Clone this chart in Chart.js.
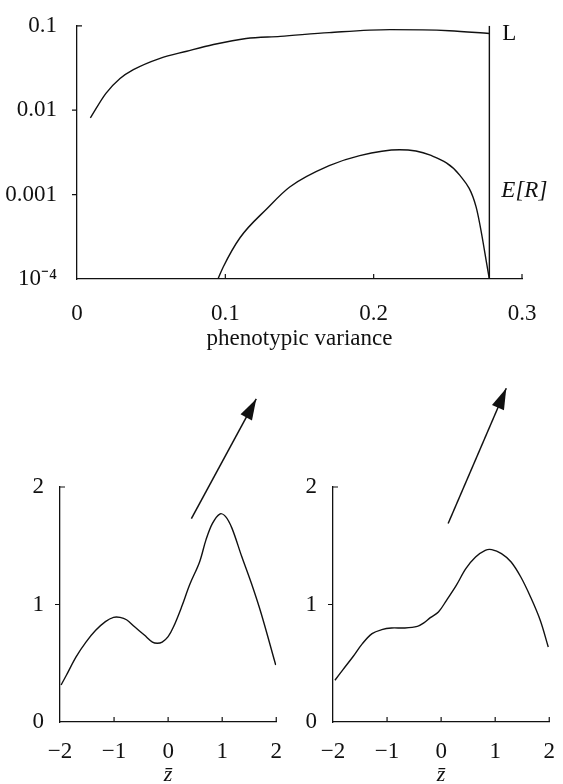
<!DOCTYPE html>
<html><head><meta charset="utf-8">
<script src="https://cdn.jsdelivr.net/npm/chart.js@4.4.1/dist/chart.umd.min.js"></script>
<style>
html,body{margin:0;padding:0;background:#fff;overflow:hidden;width:563px;height:784px;position:relative}
canvas{position:absolute;display:block}
</style></head><body>
<canvas id="c1" width="563" height="360" style="left:0;top:0"></canvas>
<canvas id="c2" width="290" height="430" style="left:0;top:370px"></canvas>
<canvas id="c3" width="273" height="430" style="left:290px;top:370px"></canvas>
<script>
// ---- top panel data ----
const varianceL = [0.009, 0.0195, 0.029, 0.038, 0.056, 0.074, 0.092, 0.114, 0.137, 0.170, 0.211, 0.251, 0.278];
const valuesL   = [0.0081, 0.0158, 0.0237, 0.0302, 0.0412, 0.050, 0.060, 0.0708, 0.075, 0.083, 0.090, 0.0875, 0.081];
const varianceR = [0.095, 0.0985, 0.110, 0.128, 0.1434, 0.170, 0.1906, 0.2175, 0.2377, 0.258, 0.269, 0.278];
const valuesR   = [1e-4, 1.38e-4, 3.1e-4, 6.8e-4, 1.23e-3, 2.2e-3, 2.9e-3, 3.4e-3, 2.95e-3, 1.7e-3, 7.2e-4, 1e-4];
const boundaryX = 0.278;
const boundaryY = [1e-4, 0.1];
const topXTicks = [0, 0.1, 0.2, 0.3];
const topXLabels = ['0', '0.1', '0.2', '0.3'];
const topYTicks = [1e-4, 1e-3, 1e-2, 1e-1];
const topYLabels = ['10\u207B\u2074', '0.001', '0.01', '0.1'];
const seriesNames = ['L', 'E[R]'];
const topXTitle = 'phenotypic variance';

// ---- bottom panels data ----
const zLeft  = [-1.98, -1.88, -1.70, -1.52, -1.34, -1.16, -1.01, -0.89, -0.77, -0.62, -0.44, -0.29, -0.20, -0.11, 0.0, 0.10, 0.25, 0.40, 0.58, 0.70, 0.82, 0.955, 1.06, 1.18, 1.36, 1.54, 1.72, 1.99];
const wLeft  = [0.315, 0.40, 0.556, 0.68, 0.78, 0.854, 0.89, 0.89, 0.87, 0.81, 0.74, 0.68, 0.67, 0.68, 0.726, 0.81, 0.98, 1.17, 1.36, 1.55, 1.69, 1.77, 1.75, 1.65, 1.41, 1.18, 0.925, 0.485];
const zRight = [-1.964, -1.815, -1.635, -1.456, -1.277, -1.098, -0.918, -0.68, -0.44, -0.32, -0.20, -0.05, 0.10, 0.28, 0.457, 0.637, 0.816, 0.936, 1.116, 1.295, 1.474, 1.654, 1.833, 1.982];
const wRight = [0.355, 0.446, 0.553, 0.667, 0.752, 0.786, 0.80, 0.80, 0.814, 0.843, 0.888, 0.936, 1.036, 1.163, 1.305, 1.404, 1.461, 1.467, 1.433, 1.362, 1.234, 1.064, 0.866, 0.638];
const arrowLeftX  = [0.43, 1.63];
const arrowLeftY  = [1.73, 2.75];
const arrowRightX = [0.13, 1.205];
const arrowRightY = [1.69, 2.84];
const botXTicks = [-2, -1, 0, 1, 2];
const botXLabels = ['\u22122', '\u22121', '0', '1', '2'];
const botYTicks = [0, 1, 2];
const botYLabels = ['0', '1', '2'];
const botXTitle = 'z\u0304';

const FONT = 'Liberation Serif';
const INK = '#111';
const pts = (xs, ys) => xs.map((x, i) => ({x, y: ys[i]}));

// tick marks + arrowheads + series labels
const decor = {
  id: 'decor',
  afterDatasetsDraw(chart) {
    const ctx = chart.ctx, x = chart.scales.x, y = chart.scales.y, a = chart.chartArea;
    ctx.save();
    ctx.strokeStyle = INK; ctx.lineWidth = 1.2;
    ctx.beginPath();
    x.ticks.forEach((t, i) => {
      if (i === 0) return;
      const px = x.getPixelForValue(t.value);
      ctx.moveTo(px, a.bottom); ctx.lineTo(px, a.bottom - 5);
    });
    const n = y.ticks.length;
    y.ticks.forEach((t, i) => {
      if (i === 0) return;
      const py = y.getPixelForValue(t.value);
      if (i === n - 1) { ctx.moveTo(a.left, py); ctx.lineTo(a.left + 5, py); }
      else { ctx.moveTo(a.left - 5, py); ctx.lineTo(a.left, py); }
    });
    ctx.stroke();
    chart.data.datasets.forEach((ds, di) => {
      if (!ds.arrow) return;
      const m = chart.getDatasetMeta(di).data;
      const p0 = m[m.length - 2], p1 = m[m.length - 1];
      const ang = Math.atan2(p1.y - p0.y, p1.x - p0.x);
      const L = 21, W = 6.5;
      ctx.fillStyle = INK;
      ctx.beginPath();
      ctx.moveTo(p1.x, p1.y);
      ctx.lineTo(p1.x - L * Math.cos(ang) + W * Math.sin(ang), p1.y - L * Math.sin(ang) - W * Math.cos(ang));
      ctx.lineTo(p1.x - L * Math.cos(ang) - W * Math.sin(ang), p1.y - L * Math.sin(ang) + W * Math.cos(ang));
      ctx.closePath(); ctx.fill();
    });
    const lab = chart.options.plugins.decor && chart.options.plugins.decor.labels;
    if (lab) {
      ctx.fillStyle = INK; ctx.textBaseline = 'middle'; ctx.textAlign = 'left';
      const bx = x.getPixelForValue(boundaryX) + 13;
      ctx.font = '23px "' + FONT + '"';
      ctx.fillText(lab[0], bx, a.top + 8);
      ctx.font = 'italic 23px "' + FONT + '"';
      ctx.fillText(lab[1], bx - 1, a.top + 165);
    }
    ctx.restore();
  }
};

const lineDs = (data, extra) => Object.assign({
  data, borderColor: INK, borderWidth: 1.4, pointRadius: 0, fill: false, tension: 0.2
}, extra || {});

const tickFont = {family: FONT, size: 23};

new Chart(document.getElementById('c1'), {
  type: 'line',
  data: {datasets: [
    lineDs(pts(varianceL, valuesL), {label: seriesNames[0], cubicInterpolationMode: 'monotone'}),
    lineDs(pts(varianceR, valuesR), {label: seriesNames[1], cubicInterpolationMode: 'monotone'}),
    lineDs(pts([boundaryX, boundaryX], boundaryY), {label: 'edge', tension: 0})
  ]},
  options: {
    responsive: false, animation: false, parsing: false,
    layout: {padding: {top: 20, right: 41, left: 0, bottom: 0}},
    plugins: {legend: {display: false}, tooltip: {enabled: false}, decor: {labels: seriesNames}},
    scales: {
      x: {type: 'linear', min: 0, max: 0.3,
        afterBuildTicks: s => { s.ticks = topXTicks.map(v => ({value: v})); },
        afterFit: s => { s.height = 81; },
        ticks: {font: tickFont, color: INK, padding: 13, maxRotation: 0,
          callback: (v, i) => topXLabels[i]},
        grid: {display: false}, border: {display: true, color: INK, width: 1.3},
        title: {display: true, text: topXTitle, font: tickFont, color: INK, padding: {top: 0, bottom: 7}}
      },
      y: {type: 'logarithmic', min: 1e-4, max: 0.1,
        afterBuildTicks: s => { s.ticks = topYTicks.map(v => ({value: v})); },
        afterFit: s => { s.width = 77; },
        ticks: {font: tickFont, color: INK, padding: 12, callback: (v, i) => topYLabels[i]},
        grid: {display: false}, border: {display: true, color: INK, width: 1.3}
      }
    }
  },
  plugins: [decor]
});

function bottomChart(id, zs, ws, ax, ay, yWidth, rightPad) {
  new Chart(document.getElementById(id), {
    type: 'line',
    data: {datasets: [
      lineDs(pts(zs, ws), {tension: 0.35}),
      lineDs(pts(ax, ay), {tension: 0, clip: false, borderWidth: 1.5, arrow: true})
    ]},
    options: {
      responsive: false, animation: false, parsing: false,
      layout: {padding: {top: 117, right: rightPad, left: 0, bottom: 0}},
      plugins: {legend: {display: false}, tooltip: {enabled: false}},
      scales: {
        x: {type: 'linear', min: -2, max: 2,
          afterBuildTicks: s => { s.ticks = botXTicks.map(v => ({value: v})); },
          afterFit: s => { s.height = 78; },
          ticks: {font: tickFont, color: INK, padding: 8, maxRotation: 0,
            callback: (v, i) => botXLabels[i]},
          grid: {display: false}, border: {display: true, color: INK, width: 1.3},
          title: {display: true, text: botXTitle, font: {family: FONT, size: 22, style: 'italic'}, color: INK, padding: {top: 0, bottom: 12}}
        },
        y: {type: 'linear', min: 0, max: 2,
          afterBuildTicks: s => { s.ticks = botYTicks.map(v => ({value: v})); },
          afterFit: s => { s.width = yWidth; },
          ticks: {font: tickFont, color: INK, padding: 8, callback: (v, i) => botYLabels[i]},
          grid: {display: false}, border: {display: true, color: INK, width: 1.3}
        }
      }
    },
    plugins: [decor]
  });
}
bottomChart('c2', zLeft, wLeft, arrowLeftX, arrowLeftY, 60, 8);
bottomChart('c3', zRight, wRight, arrowRightX, arrowRightY, 43, 7);
</script>
</body></html>
